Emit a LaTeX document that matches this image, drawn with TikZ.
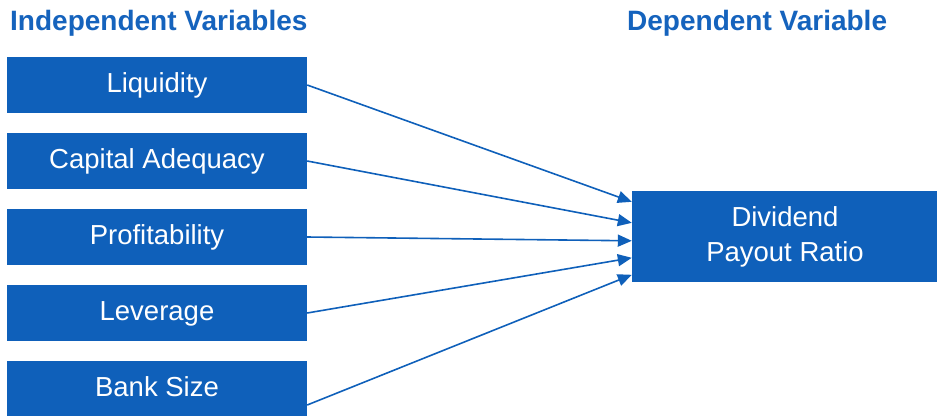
\documentclass[tikz,border=0pt]{standalone}
\usepackage{fontspec}
\setmainfont{Liberation Sans}
\usetikzlibrary{arrows.meta,calc}
\definecolor{boxblue}{RGB}{15,96,186}
\definecolor{titleblue}{RGB}{21,99,189}
\begin{document}
\begin{tikzpicture}[x=1bp,y=-1bp,
  ivbox/.style={fill=boxblue, draw=none, minimum width=300bp, minimum height=56bp,
    inner sep=0pt, text=white, font=\fontsize{27.5bp}{33bp}\selectfont,
    text height=20bp, text depth=6bp},
  dvbox/.style={fill=boxblue, draw=none, minimum width=306bp, minimum height=91bp,
    inner sep=0pt, text=white, align=center, font=\fontsize{27.5bp}{35bp}\selectfont},
  title/.style={inner sep=0pt, anchor=base west, text=titleblue,
    font=\fontsize{28bp}{33bp}\selectfont\bfseries},
  arr/.style={draw=boxblue, line width=1.6bp, -{Triangle[length=14bp,width=12bp]}}
]
\useasboundingbox (0,0) rectangle (937,415);
\clip (0,0) rectangle (937,415);
\node[title] (tiv) at (10,30) {Independent Variables};
\node[title] (tdv) at (627,30) {Dependent Variable};
\node[ivbox] (iv1) at (157,85) {Liquidity};
\node[ivbox] (iv2) at (157,161) {Capital Adequacy};
\node[ivbox] (iv3) at (157,237) {Profitability};
\node[ivbox] (iv4) at (157,313) {Leverage};
\node[ivbox] (iv5) at (157,389) {Bank Size};
\node[dvbox] (dv) at (785,236.5) {Dividend\\Payout Ratio};
\draw[arr] (iv1.east) -- ($(dv.north west)+(0,11)$);
\draw[arr] (iv2.east) -- ($(dv.north west)+(0,32)$);
\draw[arr] (iv3.east) -- ($(dv.north west)+(0,50)$);
\draw[arr] (iv4.east) -- ($(dv.north west)+(0,67)$);
\draw[arr] ($(iv5.east)+(0,16)$) -- ($(dv.north west)+(0,84)$);
\end{tikzpicture}
\end{document}
